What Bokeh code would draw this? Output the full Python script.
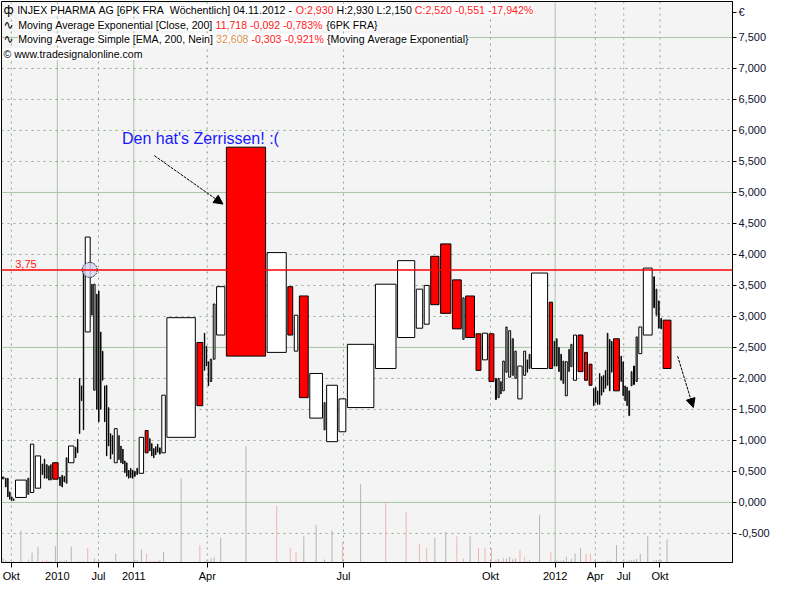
from bokeh.plotting import figure
from bokeh.models import FixedTicker, Span, Label, Arrow, NormalHead
from bokeh.embed import file_html
from bokeh.resources import INLINE

# ---------------- data (equivolume bars: width = volume, box = high..low) ----------------
vol = [1.4, 0.7, 0.4, 0.4, 0.4, 0.4,
       11, 1.0, 3.4, 5.4,
       0.6, 0.4, 0.9, 0.4, 0.4,
       5.6, 0.6, 0.6, 0.6, 0.8,
       5.5, 0.4, 0.4, 0.4, 0.4, 0.4,
       5, 0.4, 1.4, 0.4, 0.4, 0.4, 0.4, 0.4, 0.4, 0.4, 0.4, 0.4,
       3, 0.4, 0.4, 0.4, 0.4, 0.4, 0.4, 0.4, 0.4, 0.8, 0.8,
       4.5, 3, 0.4, 0.4, 0.4, 0.4, 0.4, 0.8,
       3.6, 29, 6, 0.4, 0.4, 0.4, 1.5, 1.8,
       8.4, 40, 19.5, 5, 3.6, 9, 13, 1.0, 11, 7, 27, 21, 17.5, 6.5, 5,
       8.5, 10.5, 9, 1.3, 9, 5, 5, 5,
       1.0, 1.2, 0.4, 1.6, 1.3, 2.0, 1.1, 1.4,
       4.4, 2, 0.4, 0.8, 16.4, 3.5,
       0.6, 0.8, 0.6, 0.6, 0.8,
       2, 0.4, 1.2, 3, 5, 3, 3,
       0.4, 0.4, 0.4, 0.4, 0.4, 0.4, 0.4, 0.6, 0.6, 0.4,
       6,
       0.4, 0.4, 0.4, 0.4, 0.8, 0.8, 1.0, 1.2,
       3, 9, 0.8, 0.8, 0.8, 0.8,
       8]

high = [.41, .39, .39, .17, .09, .06,
        .36, .39, .94, .75,
        .62, .70, .61, .59, .61,
        .64, .41, .44, .42, .72,
        .91, .89, 1.02, 2.0, 1.88, 3.77,
        4.28, 3.52, 3.52, 3.36, 3.41, 2.75, 2.44, 1.88, 1.89, 1.53, 1.11, 1.08,
        1.19, 1.08, .91, .86, .67, .64, .52, .55, .52, .50, .55,
        1.05, 1.16, 1.03, .95, .87, .90, .94, .88,
        1.73, 2.98, 2.58, 2.73, 2.52, 2.27, 2.31, 3.2,
        3.48, 5.73, 4.03, 3.48, 3.02, 3.33, 2.08, 1.61, 1.89, 1.67, 2.55, 3.52, 3.9, 3.44, 3.5,
        3.97, 4.17, 3.59, 3.3, 3.33, 2.72, 2.73, 2.72,
        2.0, 2.0, 1.95, 2.28, 2.83, 2.77, 2.64, 2.44,
        2.2, 2.44, 2.3, 2.39, 3.7, 3.23,
        2.6, 2.64, 2.5, 2.39, 2.28,
        2.27, 2.47, 2.55, 2.7, 2.7, 2.42, 2.23,
        1.84, 1.86, 1.8, 2.08, 2.03, 2.05, 2.13, 2.73, 2.63, 2.6,
        2.64,
        2.36, 2.27, 1.88, 1.86, 1.8, 2.11, 2.2, 2.67,
        2.83, 3.78, 3.64, 3.44, 3.25, 2.97,
        2.94]

low = [.38, .25, .09, .05, .03, .03,
       .08, .13, .16, .23,
       .45, .39, .39, .36, .36,
       .375, .27, .25, .33, .31,
       .64, .72, .80, 1.11, 1.64, 1.17,
       2.75, 3.02, 1.81, 1.5, 1.3, 1.5, 1.97, 1.3, .75, .91, .70, .78,
       .64, .69, .64, .62, .48, .42, .39, .40, .39, .42, .45,
       .47, .80, .83, .75, .72, .77, .81, .78,
       .80, 1.05, 1.56, 2.13, 2.2, 1.88, 1.95, 2.31,
       2.7, 2.36, 2.42, 2.7, 2.44, 1.69, 1.36, 1.17, .98, 1.14, 1.53, 2.16, 2.66, 2.81, 2.875,
       3.19, 3.05, 2.8, 2.63, 2.66, 2.13, 2.3, 1.95,
       1.66, 1.69, 1.75, 1.8, 2.1, 2.02, 2.05, 2.0,
       1.67, 2.05, 2.1, 2.16, 2.16, 2.16,
       2.2, 2.2, 2.11, 1.97, 1.92,
       1.72, 2.11, 2.19, 1.97, 2.11, 1.97, 1.89,
       1.56, 1.61, 1.58, 1.58, 1.73, 1.78, 1.84, 1.89, 1.8, 2.1,
       1.8,
       1.95, 1.72, 1.64, 1.56, 1.4, 1.88, 1.9, 1.95,
       2.4, 2.7, 3.14, 3.02, 2.81, 2.8,
       2.16]

# r = falling box (red), w = rising box (white)
body = ("wwwwww" "wwww" "wwwww" "rwwww" "wwwwww" "wwwwwwwwwwww" "wwwwwwwwwww"
        "wrwwwwww" "wwrwwwww" "wrwrwrwwwwwwwww" "rrrwrrwr" "wwwwwwww" "wwwwwr"
        "wwwww" "wwwwrrr" "wwwwwwwwww" "r" "wwwwwwww" "wwwwww" "r")
# volume line colour: g = grey, p = pink
vol_dir = ("gggggg" "gpgg" "pppgp" "ggggg" "gpppgg" "ppgggpggpggp" "ggpgggggggg"
           "gppppggg" "ggppgggg" "ggpppggggpgpppp" "ggppgppp" "pgppgggg" "pppggp"
           "ggggg" "gggggpp" "gggpppgggg" "g" "gppggggg" "ggpggg" "g")

tick_pos = [12, 59, 101, 137, 212, 351, 501, 567, 608, 637, 674]
tick_lab = ["Okt", "2010", "Jul", "2011", "Apr", "Jul", "Okt", "2012", "Apr", "Jul", "Okt"]
year_ticks = [59, 137, 567]
price_ticks = [-0.5, 0, 0.5, 1, 1.5, 2, 2.5, 3, 3.5, 4, 4.5, 5, 5.5, 6, 6.5, 7, 7.5]
price_labels = ["-0,500", "0,000", "0,500", "1,000", "1,500", "2,000", "2,500", "3,000",
                "3,500", "4,000", "4,500", "5,000", "5,500", "6,000", "6,500", "7,000", "7,500"]
major_price = [0, 2.5, 5, 7.5]
currency = "€"
level = 3.75

# ---------------- layout constants ----------------
X0, X1 = 2, 748
Y0, Y1 = -0.969, 8.08
GAP = 1.6
VOL_SCALE = 3 / 64.0
FONT = "Liberation Sans"
RED = "#ff2020"
NB = "\u00a0"
HDR = 10.6
GRID_SOLID = "#a8c4a8"
GRID_DOT = "#8aa88a"


def yref(px):
    """reference-pixel row -> price coordinate"""
    return (518 - px) / 64.0


left = []
pos = 3.0
for v in vol:
    left.append(pos)
    pos += v + GAP
right = [l + v for l, v in zip(left, vol)]
mid = [(l + r) / 2 for l, r in zip(left, right)]
fill = ["#ff0000" if b == "r" else "#ffffff" for b in body]
vtop = [Y0 + v * VOL_SCALE for v in vol]
vcol = ["#f0b4b4" if d == "p" else "#b4b4b4" for d in vol_dir]

p = figure(width=784, height=584, x_range=(X0, X1), y_range=(Y0, Y1),
           output_backend="svg", toolbar_location=None, y_axis_location="right",
           min_border_left=1, min_border_top=1, min_border_right=52, min_border_bottom=20,
           background_fill_color="#f4f4f4", border_fill_color="white")
p.outline_line_color = "black"
p.outline_line_width = 1
p.xgrid.visible = False
p.ygrid.visible = False

# grid: dotted at month ticks / every 0.5, solid at years / every 2.5
for t in tick_pos:
    if t in year_ticks:
        p.add_layout(Span(location=t, dimension="height", line_color=GRID_SOLID, line_width=1,
                          level="underlay"))
    else:
        p.add_layout(Span(location=t, dimension="height", line_color=GRID_DOT, line_width=1,
                          line_dash="2 4", level="underlay"))
for t in price_ticks:
    if t in major_price:
        p.add_layout(Span(location=t, dimension="width", line_color=GRID_SOLID, line_width=1,
                          level="underlay"))
    else:
        p.add_layout(Span(location=t, dimension="width", line_color=GRID_DOT, line_width=1,
                          line_dash="2 4", level="underlay"))

# axes
xa = p.xaxis[0]
xa.ticker = FixedTicker(ticks=tick_pos)
xa.major_label_overrides = {t: l for t, l in zip(tick_pos, tick_lab)}
xa.major_label_text_align = "left"
xa.major_tick_in = 0
xa.major_tick_out = 5
xa.minor_tick_out = 0
xa.minor_tick_in = 0
xa.major_label_standoff = 2
xa.major_label_text_font = FONT
xa.major_label_text_font_size = "11px"
xa.major_label_text_color = "black"
xa.axis_line_color = "black"
xa.major_tick_line_color = "black"

cur_pos = yref(12)
ya = p.yaxis[0]
ya.ticker = FixedTicker(ticks=price_ticks + [cur_pos])
overrides = {t: l for t, l in zip(price_ticks, price_labels)}
overrides[cur_pos] = currency
ya.major_label_overrides = overrides
ya.major_tick_in = 0
ya.major_tick_out = 4
ya.minor_tick_out = 0
ya.minor_tick_in = 0
ya.major_label_standoff = 2
ya.major_label_text_font = FONT
ya.major_label_text_font_size = "11px"
ya.major_label_text_color = "#101030"
ya.axis_line_color = "black"
ya.major_tick_line_color = "black"

# volume lines at the bottom
p.segment(x0=mid, y0=[Y0] * len(mid), x1=mid, y1=vtop, line_color=vcol, line_width=1)

# equivolume boxes
p.quad(left=left, right=right, top=high, bottom=low, fill_color=fill,
       line_color="black", line_width=1)

# horizontal level
p.add_layout(Span(location=level, dimension="width", line_color="#ff0000", line_width=1.5))
p.add_layout(Label(x=16, y=level, y_offset=2, text="3,75", text_color=RED,
                   text_font=FONT, text_font_size="11px", text_baseline="bottom"))
p.scatter(x=[92], y=[level], size=15, fill_color="#d4d4f0", fill_alpha=0.8,
          line_color="#202040", line_dash="2 1", line_width=1)

# annotation
p.add_layout(Label(x=125, y=yref(142), text="Den hat's Zerrissen! :(", text_color="#1818ff",
                   text_font=FONT, text_font_size="16px", text_baseline="middle"))
p.add_layout(Arrow(x_start=158, y_start=yref(160), x_end=228, y_end=yref(210),
                   line_color="black", line_width=1, line_dash="3 1",
                   end=NormalHead(size=9, fill_color="black", line_color="black")))
p.add_layout(Arrow(x_start=692, y_start=yref(367), x_end=708, y_end=yref(420),
                   line_color="black", line_width=1, line_dash="3 1",
                   end=NormalHead(size=9, fill_color="black", line_color="black")))

# header legend rows
AW = {' ': 278, NB: 278, '!': 278, "'": 191, '(': 333, ')': 333, ',': 278, '-': 333, '.': 278,
      '/': 278, ':': 278, '[': 278, ']': 278, '{': 334, '}': 334, '%': 889, '©': 737,
      'A': 667, 'B': 667, 'C': 722, 'D': 722, 'E': 667, 'F': 611, 'G': 778, 'H': 722, 'I': 278,
      'J': 500, 'K': 667, 'L': 556, 'M': 833, 'N': 722, 'O': 778, 'P': 667, 'Q': 778, 'R': 722,
      'S': 667, 'T': 611, 'U': 722, 'V': 667, 'W': 944, 'X': 667, 'Y': 667, 'Z': 611,
      'a': 556, 'b': 556, 'c': 500, 'd': 556, 'e': 556, 'f': 278, 'g': 556, 'h': 556, 'i': 222,
      'j': 222, 'k': 500, 'l': 222, 'm': 833, 'n': 556, 'o': 556, 'p': 556, 'q': 556, 'r': 333,
      's': 500, 't': 278, 'u': 556, 'v': 500, 'w': 722, 'x': 500, 'y': 500, 'z': 500, 'ö': 556}


def text_w(s, size):
    return sum(AW.get(c, 556) for c in s) / 1000.0 * size


def row(y_ref, segments, x0=18, icon=None):
    yv = yref(y_ref)
    if icon:
        p.add_layout(Label(x=4, y=yv, text=icon, text_color="black", text_font="DejaVu Sans",
                           text_font_size="12px", text_baseline="middle"))
    off = 0.0
    for txt, col in segments:
        t = txt.replace(" ", NB)
        p.add_layout(Label(x=x0, y=yv, x_offset=off, text=t, text_color=col, text_font=FONT,
                           text_font_size="%.1fpx" % HDR, text_baseline="middle",
                           background_fill_color="white"))
        off += text_w(t, HDR)


row(10, [("INJEX PHARMA AG [6PK FRA  Wöchentlich] 04.11.2012 - ", "black"),
         ("O:2,930", RED), (" H:2,930 L:2,150 ", "black"),
         ("C:2,520 -0,551 -17,942%", RED)], icon="ф")
row(25, [("Moving Average Exponential [Close, 200] ", "black"),
         ("11,718 -0,092 -0,783%", RED), (" {6PK FRA}", "black")], x0=19, icon="∿")
row(40, [("Moving Average Simple [EMA, 200, Nein] ", "black"),
         ("32,608", "#d89050"), (" -0,303 -0,921%", RED),
         (" {Moving Average Exponential}", "black")], x0=19, icon="∿")
row(55, [("© www.tradesignalonline.com", "black")], x0=4)

open("out.html", "w").write(file_html(p, INLINE))
